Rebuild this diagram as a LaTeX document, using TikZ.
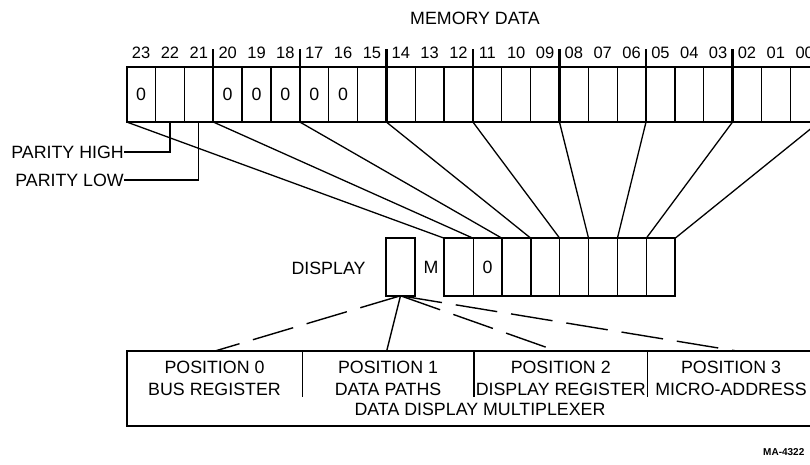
\documentclass[tikz,border=0pt]{standalone}
\usepackage{fontspec}
\setmainfont{Liberation Sans}
\begin{document}
\begin{tikzpicture}[x=1pt,y=-1pt,
  txt/.style={font=\fontsize{17.8}{20}\selectfont, inner sep=0pt},
  num/.style={font=\fontsize{16.5}{20}\selectfont, inner sep=0pt},
  cell/.style={draw, line width=1.3pt, minimum width=28.85pt, minimum height=55pt, inner sep=0pt, outer sep=0pt},
  dcell/.style={cell, minimum height=57.5pt},
  outline/.style={line width=2pt},
  groupsep/.style={line width=2.4pt},
  fan/.style={line width=1.3pt},
  dashline/.style={line width=1.4pt, dash pattern=on 42pt off 14pt},
  solidline/.style={line width=1.4pt},
  tag/.style={font=\fontsize{10}{12}\selectfont\bfseries, inner sep=0pt}
]
\useasboundingbox (0,0) rectangle (810,464);
\clip (0,0) rectangle (810,464);

% title
\node[txt] (title) at (475,18) {MEMORY DATA};

% memory register
\foreach \i in {0,...,23}{
  \pgfmathtruncatemacro\b{23-\i}
  \node[cell] (m\i) at ({126.7+(\i+0.5)*28.85},94.5) {};
  \node[num] (n\i) at ({126.7+(\i+0.5)*28.85},53) {\ifnum\b<10 0\fi\b};
}
\draw[outline] (m0.north west) rectangle (m23.south east);
\foreach \k in {1,...,7}{
  \pgfmathtruncatemacro\j{3*\k}
  \draw[groupsep] (m\j.south west) -- ++(0,-73);
}
\foreach \i in {0,3,4,5,6,7}{
  \node[txt] (z\i) at (m\i) {0};
}

% parity
\node[txt, anchor=east] (ph) at (124,152) {PARITY HIGH};
\node[txt, anchor=east] (pl) at (124,180) {PARITY LOW};
\draw[fan] (m1.south) |- (ph.east);
\draw[fan] (m2.south) |- (pl.east);

% display register
\foreach \k in {0,...,7}{
  \node[dcell] (d\k) at ({444.3+(\k+0.5)*28.85},267) {};
}
\draw[outline] (d0.north west) rectangle (d7.south east);
\node[txt] (dz) at (d1) {0};

% fan lines
\foreach \k in {0,...,7}{
  \pgfmathtruncatemacro\j{3*\k}
  \draw[fan] (m\j.south west) -- (d\k.north west);
}
\draw[fan] (m23.south east) -- (d7.north east);

% display selector
\node[draw, line width=2pt, minimum width=29pt, minimum height=57.5pt, inner sep=0pt, outer sep=0pt] (dsp) at (400.5,267) {};
\node[txt] (dlab) at (328.5,268) {DISPLAY};
\node[txt] (mlab) at (431,267) {M};

% multiplexer
\node[draw, line width=2pt, minimum width=691.7pt, minimum height=75pt, inner sep=0pt, outer sep=0pt] (mux) at (473.2,388.5) {};
\coordinate (s1) at (302.3,351);
\coordinate (s2) at (474,351);
\coordinate (s3) at (647.3,351);
\foreach \s in {s1,s2,s3}{
  \draw[fan] (\s) -- ++(0,46);
}
\node[txt, align=center] (q0) at (214.5,378.5) {POSITION 0\\[1.5pt]BUS REGISTER};
\node[txt, align=center] (q1) at (388,378.5) {POSITION 1\\[1.5pt]DATA PATHS};
\node[txt, align=center] (q2) at (560.7,378.5) {POSITION 2\\[1.5pt]DISPLAY REGISTER};
\node[txt, align=center] (q3) at (731,378.5) {POSITION 3\\[1.5pt]MICRO-ADDRESS};
\node[txt] (mxl) at (480,409.5) {DATA DISPLAY MULTIPLEXER};

\coordinate (t0) at (215,351);
\coordinate (t1) at (386.7,351);
\coordinate (t2) at (556.7,351);
\coordinate (t3) at (736.7,351);
\draw[dashline] (dsp.south) -- (t0);
\draw[solidline] (dsp.south) -- (t1);
\draw[dashline] (dsp.south) -- (t2);
\draw[dashline] (dsp.south) -- (t3);

\node[tag, anchor=west] (ma) at (763,452) {MA-4322};
\end{tikzpicture}
\end{document}
